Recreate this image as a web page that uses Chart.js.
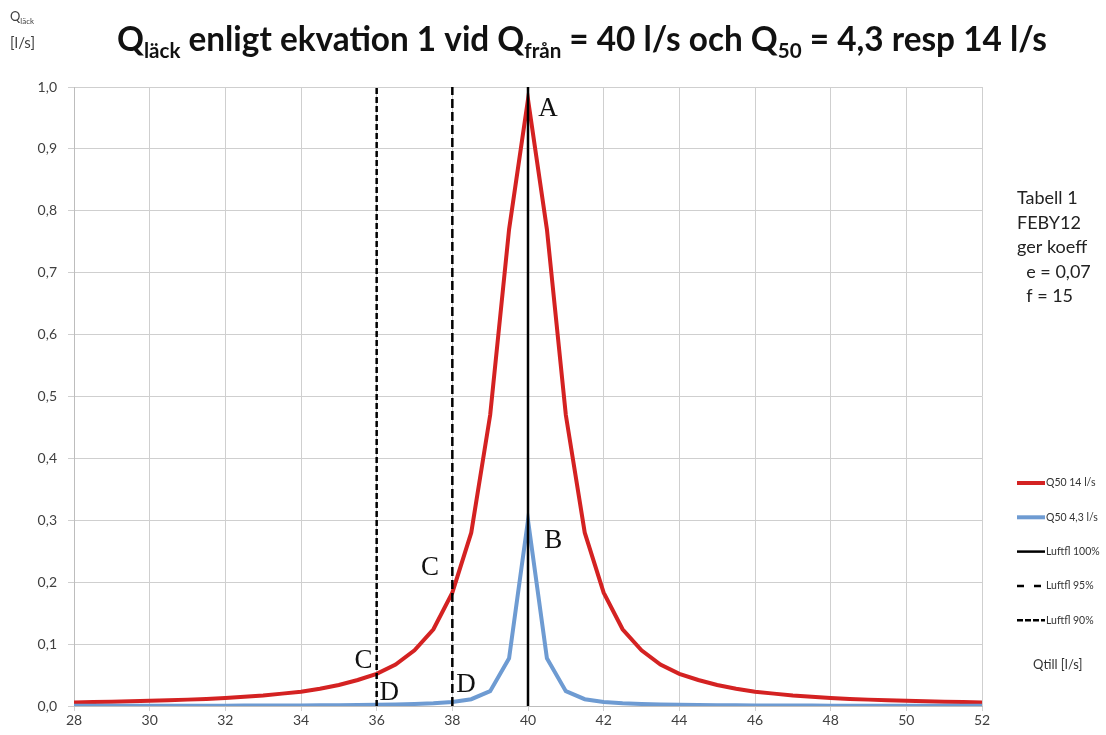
<!DOCTYPE html>
<html>
<head>
<meta charset="utf-8">
<script src="https://cdn.jsdelivr.net/npm/chart.js@4.4.0/dist/chart.umd.min.js"></script>
<style>
    html, body { margin: 0; padding: 0; background: #fff; }
</style>
</head>
<body>
<canvas id="leakChart" width="1106" height="735"></canvas>
<script>
// Qtill [l/s] - x values, every 0.5 l/s
const qTill = [28, 28.5, 29, 29.5, 30, 30.5, 31, 31.5, 32, 32.5, 33, 33.5, 34, 34.5, 35, 35.5, 36, 36.5, 37, 37.5,
    38, 38.5, 39, 39.5, 40, 40.5, 41, 41.5, 42, 42.5, 43, 43.5, 44, 44.5, 45, 45.5, 46, 46.5, 47, 47.5,
    48, 48.5, 49, 49.5, 50, 50.5, 51, 51.5, 52];

// Qläck for Q50 = 14 l/s
const q50_14 = [0.0058, 0.0064, 0.007, 0.0077, 0.0085, 0.0093, 0.0103, 0.0115, 0.013, 0.015, 0.017, 0.020, 0.023, 0.028, 0.034, 0.042, 0.052, 0.067, 0.090, 0.124,
    0.183, 0.28, 0.47, 0.77, 0.98, 0.77, 0.47, 0.28, 0.183, 0.124, 0.090, 0.067, 0.052, 0.042, 0.034, 0.028, 0.023, 0.020, 0.017, 0.015,
    0.013, 0.0115, 0.0103, 0.0093, 0.0085, 0.0077, 0.007, 0.0064, 0.0058];

// Qläck for Q50 = 4,3 l/s
const q50_43 = [0.0003, 0.0003, 0.0004, 0.0004, 0.0004, 0.0005, 0.0005, 0.0006, 0.0006, 0.0007, 0.0008, 0.0009, 0.001, 0.0012, 0.0014, 0.0017, 0.002, 0.0026, 0.0033, 0.0045,
    0.0065, 0.011, 0.024, 0.077, 0.30, 0.077, 0.024, 0.011, 0.0065, 0.0045, 0.0033, 0.0026, 0.002, 0.0017, 0.0014, 0.0012, 0.001, 0.0009, 0.0008, 0.0007,
    0.0006, 0.0006, 0.0005, 0.0005, 0.0004, 0.0004, 0.0004, 0.0003, 0.0003];

// vertical marker lines (Luftfl 100%, 95%, 90%)
const luftflLabels = ["Luftfl 100%", "Luftfl 95%", "Luftfl 90%"];
const luftflX = [40, 38, 36];
const luftflY = [0, 1.0];

// point letters on the chart
const letterText = ["A", "B", "C", "C", "D", "D"];
const letterX = [40.53, 40.67, 37.41, 35.65, 36.33, 38.36];
const letterY = [0.966, 0.269, 0.225, 0.074, 0.023, 0.035];

const noteLines = ["Tabell 1", "FEBY12", "ger koeff", "  e = 0,07", "  f = 15"];

const RED = "#d42222";
const BLUE = "#6e9bd2";
const SANS = "Lato, 'Open Sans', sans-serif";

function toPoints(xs, ys) {
    return xs.map((x, i) => ({ x: x, y: ys[i] }));
}

const datasets = [
    { label: "Q50 14 l/s", data: toPoints(qTill, q50_14), borderColor: RED, borderWidth: 4, order: 4 },
    { label: "Q50 4,3 l/s", data: toPoints(qTill, q50_43), borderColor: BLUE, borderWidth: 4, order: 3 },
    { label: luftflLabels[0], data: luftflY.map(y => ({ x: luftflX[0], y: y })), borderColor: "#000", borderWidth: 2.5, order: 0, legendDash: [] },
    { label: luftflLabels[1], data: luftflY.map(y => ({ x: luftflX[1], y: y })), borderColor: "#000", borderWidth: 2.5, borderDash: [9, 4], order: 1, legendDash: [7, 10] },
    { label: luftflLabels[2], data: luftflY.map(y => ({ x: luftflX[2], y: y })), borderColor: "#000", borderWidth: 2.5, borderDash: [6, 3], order: 2, legendDash: [6, 2] },
];

// draws text parts with subscripts, optionally squeezed to a given width
function drawRich(ctx, parts, x, baseline, size, weight, targetWidth) {
    const subSize = Math.round(size * 0.62);
    let total = 0;
    parts.forEach(p => {
        ctx.font = weight + " " + (p.sub ? subSize : size) + "px " + SANS;
        p.w = ctx.measureText(p.t).width;
        total += p.w;
    });
    const sx = targetWidth ? targetWidth / total : 1;
    ctx.save();
    ctx.translate(x, 0);
    ctx.scale(sx, 1);
    let cx = 0;
    parts.forEach(p => {
        ctx.font = weight + " " + (p.sub ? subSize : size) + "px " + SANS;
        ctx.fillText(p.t, cx, baseline + (p.sub ? size * 0.22 : 0));
        cx += p.w;
    });
    ctx.restore();
}

const textPlugin = {
    id: "texts",
    afterDraw(chart) {
        const ctx = chart.ctx;
        const xs = chart.scales.x;
        const ys = chart.scales.y;
        ctx.save();
        ctx.textAlign = "left";
        ctx.textBaseline = "alphabetic";

        // title
        ctx.fillStyle = "#111";
        drawRich(ctx, [
            { t: "Q" }, { t: "läck", sub: true }, { t: " enligt ekvation 1 vid Q" }, { t: "från", sub: true },
            { t: " = 40 l/s och Q" }, { t: "50", sub: true }, { t: " = 4,3 resp 14 l/s" }
        ], 117, 51, 34, "bold", 930);

        // y axis unit
        ctx.fillStyle = "#404040";
        drawRich(ctx, [{ t: "Q" }, { t: "läck", sub: true }], 10, 21, 13, "normal", 24);
        ctx.font = "15px " + SANS;
        ctx.fillText("[l/s]", 10, 48);

        // x axis unit
        ctx.font = "13px " + SANS;
        ctx.fillStyle = "#333";
        ctx.fillText("Qtill [l/s]", 1033, 669);

        // note box
        ctx.font = "18px " + SANS;
        ctx.fillStyle = "#222";
        noteLines.forEach((line, i) => {
            ctx.fillText(line, 1017, 204 + i * 24.6);
        });

        // letters
        ctx.font = "27px 'Liberation Serif', 'DejaVu Serif', serif";
        ctx.fillStyle = "#111";
        ctx.textAlign = "center";
        ctx.textBaseline = "middle";
        letterText.forEach((t, i) => {
            ctx.fillText(t, xs.getPixelForValue(letterX[i]), ys.getPixelForValue(letterY[i]) + 1);
        });

        // legend
        ctx.textAlign = "left";
        ctx.textBaseline = "middle";
        ctx.font = "10.5px " + SANS;
        chart.data.datasets.forEach((ds, i) => {
            const y = 483 + i * 34.3;
            ctx.save();
            ctx.strokeStyle = ds.borderColor;
            ctx.lineWidth = ds.borderWidth;
            ctx.setLineDash(ds.legendDash || []);
            ctx.beginPath();
            ctx.moveTo(1017, y);
            ctx.lineTo(1045, y);
            ctx.stroke();
            ctx.restore();
            ctx.fillStyle = "#333";
            ctx.fillText(ds.label, 1046, y);
        });
        ctx.restore();
    }
};

const ctx = document.getElementById("leakChart").getContext("2d");
const leakChart = new Chart(ctx, {
    type: "line",
    data: { datasets: datasets },
    options: {
        responsive: false,
        animation: false,
        devicePixelRatio: 1,
        layout: { padding: { left: 0, right: 124, top: 87, bottom: 0 } },
        elements: {
            point: { radius: 0 },
            line: { tension: 0, fill: false }
        },
        plugins: {
            legend: { display: false },
            tooltip: { enabled: false }
        },
        scales: {
            x: {
                type: "linear",
                min: 28,
                max: 52,
                afterFit: (scale) => { scale.height = 29; },
                ticks: {
                    stepSize: 2,
                    padding: 1,
                    color: "#404040",
                    font: { family: SANS, size: 14 },
                    maxRotation: 0
                },
                grid: { color: "#cfcfcf", tickLength: 5 },
                border: { color: "#bdbdbd" }
            },
            y: {
                min: 0,
                max: 1.0,
                afterFit: (scale) => { scale.width = 74; },
                ticks: {
                    stepSize: 0.1,
                    padding: 11,
                    color: "#404040",
                    font: { family: SANS, size: 14 },
                    callback: (value) => value.toFixed(1).replace(".", ",")
                },
                grid: { color: "#cfcfcf", tickLength: 6 },
                border: { color: "#bdbdbd" }
            }
        }
    },
    plugins: [textPlugin]
});
</script>
</body>
</html>
